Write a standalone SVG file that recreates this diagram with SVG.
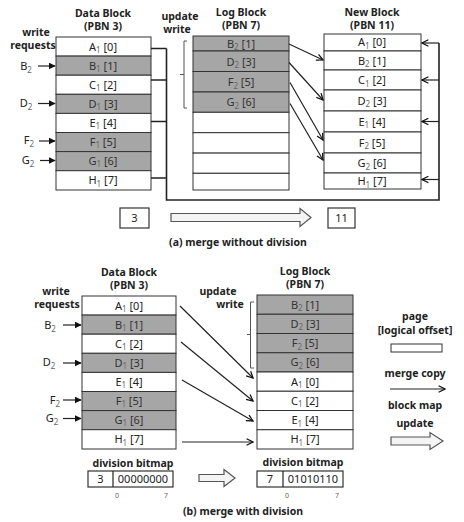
<svg xmlns="http://www.w3.org/2000/svg" width="464" height="522" viewBox="0 0 464 522">
<style>
  text { font-family: "Noto Sans", "Open Sans", "DejaVu Sans", sans-serif; fill: #222; }
  .t { font-size: 10.5px; font-weight: bold; text-anchor: middle; }
  .r { font-size: 11px; text-anchor: middle; }
  .rs { font-size: 11px; text-anchor: middle; fill: #333; }
  .s { font-size: 8px; fill: #666; }
  .lbl { font-size: 11px; text-anchor: middle; }
  .sm { font-size: 7px; text-anchor: middle; fill: #666; }
  .cap { font-size: 10.5px; font-weight: bold; text-anchor: middle; }
  .w { fill: #fff; stroke: #333; stroke-width: 1; }
  .g { fill: #a6a6a6; stroke: #333; stroke-width: 1; }
  .box { fill: #fff; stroke: #333; stroke-width: 1.2; }
  .ln { fill: none; stroke: #222; stroke-width: 1.2; }
  .loop { fill: none; stroke: #222; stroke-width: 1.6; }
  .brace { fill: none; stroke: #555; stroke-width: 1; }
  .hol { fill: #f4f4f4; stroke: #555; stroke-width: 1.2; }
</style>
<defs>
  <marker id="fa" viewBox="0 0 10 10" refX="9" refY="5" markerWidth="7" markerHeight="7" markerUnits="userSpaceOnUse" orient="auto">
    <path d="M0,0 L10,5 L0,10 z" fill="#111"/>
  </marker>
  <marker id="oa" viewBox="0 0 10 10" refX="9" refY="5" markerWidth="8" markerHeight="8" markerUnits="userSpaceOnUse" orient="auto">
    <path d="M1,1 L9,5 L1,9" fill="none" stroke="#111" stroke-width="1.6"/>
  </marker>
</defs>
<rect width="464" height="522" fill="#fff"/>

<!-- ===== (a) merge without division ===== -->
<g id="a-data-block">
  <text class="t" x="103" y="17">Data Block</text>
  <text class="t" x="103" y="30">(PBN 3)</text>
  <rect class="w" x="56" y="37" width="95" height="19.1"/>
  <rect class="g" x="56" y="56.1" width="95" height="19.1"/>
  <rect class="w" x="56" y="75.2" width="95" height="19.1"/>
  <rect class="g" x="56" y="94.3" width="95" height="19.1"/>
  <rect class="w" x="56" y="113.4" width="95" height="19.1"/>
  <rect class="g" x="56" y="132.5" width="95" height="19.1"/>
  <rect class="g" x="56" y="151.6" width="95" height="19.1"/>
  <rect class="w" x="56" y="170.7" width="95" height="19.3"/>
  <text class="r" x="103" y="50.5">A<tspan class="s" dy="2.5">1</tspan><tspan dy="-2.5"> [0]</tspan></text>
  <text class="rs" x="103" y="69.5">B<tspan class="s" dy="2.5">1</tspan><tspan dy="-2.5"> [1]</tspan></text>
  <text class="r" x="103" y="88.5">C<tspan class="s" dy="2.5">1</tspan><tspan dy="-2.5"> [2]</tspan></text>
  <text class="rs" x="103" y="107.5">D<tspan class="s" dy="2.5">1</tspan><tspan dy="-2.5"> [3]</tspan></text>
  <text class="r" x="103" y="126.5">E<tspan class="s" dy="2.5">1</tspan><tspan dy="-2.5">  [4]</tspan></text>
  <text class="rs" x="103" y="145.5">F<tspan class="s" dy="2.5">1</tspan><tspan dy="-2.5">  [5]</tspan></text>
  <text class="rs" x="103" y="164.5">G<tspan class="s" dy="2.5">1</tspan><tspan dy="-2.5">  [6]</tspan></text>
  <text class="r" x="103" y="184">H<tspan class="s" dy="2.5">1</tspan><tspan dy="-2.5">  [7]</tspan></text>
</g>

<g id="a-write-requests">
  <text class="cap" x="36" y="36" font-size="10">write</text>
  <text class="cap" x="33" y="48.5" font-size="10">requests</text>
  <text class="lbl" x="26" y="70">B<tspan class="s" dy="2.5">2</tspan></text>
  <text class="lbl" x="26" y="107">D<tspan class="s" dy="2.5">2</tspan></text>
  <text class="lbl" x="29" y="144">F<tspan class="s" dy="2.5">2</tspan></text>
  <text class="lbl" x="28" y="164">G<tspan class="s" dy="2.5">2</tspan></text>
</g>

<g id="a-log-block">
  <text class="t" x="241" y="16">Log Block</text>
  <text class="t" x="241" y="29">(PBN 7)</text>
  <text class="cap" x="180" y="20">update</text>
  <text class="cap" x="177" y="33">write</text>
  <rect class="g" x="193" y="36" width="96" height="15"/>
  <rect class="g" x="193" y="51" width="96" height="20.5"/>
  <rect class="g" x="193" y="71.5" width="96" height="20.5"/>
  <rect class="g" x="193" y="92" width="96" height="20.3"/>
  <rect class="w" x="193" y="112.3" width="96" height="20.4"/>
  <rect class="w" x="193" y="132.7" width="96" height="20.4"/>
  <rect class="w" x="193" y="153.1" width="96" height="20.2"/>
  <rect class="w" x="193" y="173.3" width="96" height="16.7"/>
  <path class="brace" d="M187,41 L184,41 L184,108 L187,108 M184,74.5 L180,74.5"/>
  <text class="rs" x="241" y="47.5">B<tspan class="s" dy="2.5">2</tspan><tspan dy="-2.5"> [1]</tspan></text>
  <text class="rs" x="241" y="65.5">D<tspan class="s" dy="2.5">2</tspan><tspan dy="-2.5"> [3]</tspan></text>
  <text class="rs" x="241" y="86">F<tspan class="s" dy="2.5">2</tspan><tspan dy="-2.5"> [5]</tspan></text>
  <text class="rs" x="241" y="106">G<tspan class="s" dy="2.5">2</tspan><tspan dy="-2.5"> [6]</tspan></text>
</g>

<g id="a-new-block">
  <text class="t" x="372" y="16">New Block</text>
  <text class="t" x="372" y="29">(PBN 11)</text>
  <rect class="w" x="324" y="34" width="97" height="17"/>
  <rect class="w" x="324" y="51" width="97" height="19"/>
  <rect class="w" x="324" y="70" width="97" height="20"/>
  <rect class="w" x="324" y="90" width="97" height="21"/>
  <rect class="w" x="324" y="111" width="97" height="21"/>
  <rect class="w" x="324" y="132" width="97" height="21"/>
  <rect class="w" x="324" y="153" width="97" height="20"/>
  <rect class="w" x="324" y="173" width="97" height="16"/>
  <text class="r" x="372" y="46">A<tspan class="s" dy="2.5">1</tspan><tspan dy="-2.5"> [0]</tspan></text>
  <text class="r" x="372" y="64.5">B<tspan class="s" dy="2.5">2</tspan><tspan dy="-2.5"> [1]</tspan></text>
  <text class="r" x="372" y="84">C<tspan class="s" dy="2.5">1</tspan><tspan dy="-2.5"> [2]</tspan></text>
  <text class="r" x="372" y="104.5">D<tspan class="s" dy="2.5">2</tspan><tspan dy="-2.5"> [3]</tspan></text>
  <text class="r" x="372" y="125.5">E<tspan class="s" dy="2.5">1</tspan><tspan dy="-2.5"> [4]</tspan></text>
  <text class="r" x="372" y="146.5">F<tspan class="s" dy="2.5">2</tspan><tspan dy="-2.5"> [5]</tspan></text>
  <text class="r" x="372" y="167">G<tspan class="s" dy="2.5">2</tspan><tspan dy="-2.5"> [6]</tspan></text>
  <text class="r" x="372" y="185">H<tspan class="s" dy="2.5">1</tspan><tspan dy="-2.5"> [7]</tspan></text>
</g>

<g id="a-map">
  <rect class="box" x="120" y="208" width="29" height="20"/>
  <text class="lbl" x="134.5" y="222">3</text>
  <rect class="box" x="328" y="208" width="27" height="20"/>
  <text class="lbl" x="341.5" y="222">11</text>
  <path class="hol" d="M171,213.5 L300,213.5 L300,208.5 L311,217.5 L300,226.5 L300,221.5 L171,221.5 z"/>
  <text class="cap" x="238" y="246">(a)  merge without division</text>
</g>

<g id="a-connectors">
  <line class="ln" x1="38" y1="66" x2="55" y2="66" marker-end="url(#fa)"/>
  <line class="ln" x1="38" y1="103.5" x2="55" y2="103.5" marker-end="url(#fa)"/>
  <line class="ln" x1="39" y1="141" x2="55" y2="141" marker-end="url(#fa)"/>
  <line class="ln" x1="40" y1="160.5" x2="55" y2="160.5" marker-end="url(#fa)"/>
  <line class="ln" x1="289" y1="44" x2="323" y2="60" marker-end="url(#oa)"/>
  <line class="ln" x1="289" y1="62.5" x2="323" y2="100" marker-end="url(#oa)"/>
  <line class="ln" x1="290" y1="82.5" x2="323" y2="140" marker-end="url(#oa)"/>
  <line class="ln" x1="290" y1="103.5" x2="323" y2="160" marker-end="url(#oa)"/>
  <path class="loop" d="M151,48.5 L166.5,48.5 M151,80 L166.5,80 M151,121.5 L166.5,121.5 M151,178 L166.5,178 M166.5,48.5 L166.5,200 L439,200 L439,43"/>
  <line class="ln" x1="439" y1="43" x2="422" y2="43" marker-end="url(#oa)"/>
  <line class="ln" x1="439" y1="80" x2="422" y2="80" marker-end="url(#oa)"/>
  <line class="ln" x1="439" y1="121.5" x2="422" y2="121.5" marker-end="url(#oa)"/>
  <line class="ln" x1="439" y1="179.5" x2="422" y2="179.5" marker-end="url(#oa)"/>
</g>

<!-- ===== (b) merge with division ===== -->
<g id="b-data-block">
  <text class="t" x="129" y="276">Data Block</text>
  <text class="t" x="129" y="289">(PBN 3)</text>
  <rect class="w" x="82" y="296" width="94" height="19.1"/>
  <rect class="g" x="82" y="315.1" width="94" height="19.1"/>
  <rect class="w" x="82" y="334.2" width="94" height="19.1"/>
  <rect class="g" x="82" y="353.3" width="94" height="19.1"/>
  <rect class="w" x="82" y="372.4" width="94" height="19.1"/>
  <rect class="g" x="82" y="391.5" width="94" height="19.1"/>
  <rect class="g" x="82" y="410.6" width="94" height="19.1"/>
  <rect class="w" x="82" y="429.7" width="94" height="19.3"/>
  <text class="r" x="129" y="309.5">A<tspan class="s" dy="2.5">1</tspan><tspan dy="-2.5"> [0]</tspan></text>
  <text class="rs" x="129" y="328.5">B<tspan class="s" dy="2.5">1</tspan><tspan dy="-2.5"> [1]</tspan></text>
  <text class="r" x="129" y="347.5">C<tspan class="s" dy="2.5">1</tspan><tspan dy="-2.5"> [2]</tspan></text>
  <text class="rs" x="129" y="366.5">D<tspan class="s" dy="2.5">1</tspan><tspan dy="-2.5"> [3]</tspan></text>
  <text class="r" x="129" y="385.5">E<tspan class="s" dy="2.5">1</tspan><tspan dy="-2.5">  [4]</tspan></text>
  <text class="rs" x="129" y="404.5">F<tspan class="s" dy="2.5">1</tspan><tspan dy="-2.5">  [5]</tspan></text>
  <text class="rs" x="129" y="423.5">G<tspan class="s" dy="2.5">1</tspan><tspan dy="-2.5">  [6]</tspan></text>
  <text class="r" x="129" y="443">H<tspan class="s" dy="2.5">1</tspan><tspan dy="-2.5">  [7]</tspan></text>
</g>

<g id="b-write-requests">
  <text class="cap" x="56" y="295" font-size="10">write</text>
  <text class="cap" x="57" y="307.5" font-size="10">requests</text>
  <text class="lbl" x="50" y="329">B<tspan class="s" dy="2.5">2</tspan></text>
  <text class="lbl" x="49" y="366">D<tspan class="s" dy="2.5">2</tspan></text>
  <text class="lbl" x="55" y="404">F<tspan class="s" dy="2.5">2</tspan></text>
  <text class="lbl" x="52" y="422">G<tspan class="s" dy="2.5">2</tspan></text>
</g>

<g id="b-log-block">
  <text class="t" x="305" y="275">Log Block</text>
  <text class="t" x="305" y="288">(PBN 7)</text>
  <text class="cap" x="218" y="295">update</text>
  <text class="cap" x="230" y="308">write</text>
  <rect class="g" x="257" y="295" width="96" height="19.25"/>
  <rect class="g" x="257" y="314.25" width="96" height="19.25"/>
  <rect class="g" x="257" y="333.5" width="96" height="19.25"/>
  <rect class="g" x="257" y="352.75" width="96" height="19.25"/>
  <rect class="w" x="257" y="372" width="96" height="19.25"/>
  <rect class="w" x="257" y="391.25" width="96" height="19.25"/>
  <rect class="w" x="257" y="410.5" width="96" height="19.25"/>
  <rect class="w" x="257" y="429.75" width="96" height="19.25"/>
  <path class="brace" d="M254,302 L250.5,302 L250.5,368 L254,368 M250.5,334.5 L247,334.5"/>
  <text class="rs" x="305" y="308.5">B<tspan class="s" dy="2.5">2</tspan><tspan dy="-2.5"> [1]</tspan></text>
  <text class="rs" x="305" y="327.5">D<tspan class="s" dy="2.5">2</tspan><tspan dy="-2.5"> [3]</tspan></text>
  <text class="rs" x="305" y="347">F<tspan class="s" dy="2.5">2</tspan><tspan dy="-2.5"> [5]</tspan></text>
  <text class="rs" x="305" y="366">G<tspan class="s" dy="2.5">2</tspan><tspan dy="-2.5"> [6]</tspan></text>
  <text class="r" x="305" y="385.5">A<tspan class="s" dy="2.5">1</tspan><tspan dy="-2.5"> [0]</tspan></text>
  <text class="r" x="305" y="404.5">C<tspan class="s" dy="2.5">1</tspan><tspan dy="-2.5"> [2]</tspan></text>
  <text class="r" x="305" y="424">E<tspan class="s" dy="2.5">1</tspan><tspan dy="-2.5"> [4]</tspan></text>
  <text class="r" x="305" y="443">H<tspan class="s" dy="2.5">1</tspan><tspan dy="-2.5"> [7]</tspan></text>
</g>

<g id="b-legend">
  <text class="cap" x="415" y="320">page</text>
  <text class="cap" x="415" y="334">[logical offset]</text>
  <rect class="w" x="391" y="344" width="51" height="8"/>
  <text class="cap" x="415" y="377">merge copy</text>
  <line class="ln" x1="390" y1="389" x2="445" y2="389" marker-end="url(#oa)"/>
  <text class="cap" x="415" y="409">block map</text>
  <text class="cap" x="415" y="427">update</text>
  <path class="hol" d="M391,437 L430,437 L430,432.5 L443,441 L430,449.5 L430,445 L391,445 z"/>
</g>

<g id="b-bitmap-left">
  <text class="cap" x="133" y="467" font-size="10">division bitmap</text>
  <rect class="box" x="88" y="471" width="85" height="16"/>
  <line class="ln" x1="113" y1="471" x2="113" y2="487"/>
  <text class="lbl" x="100.5" y="483">3</text>
  <text class="lbl" x="143" y="483">00000000</text>
  <text class="sm" x="117" y="498">0</text>
  <text class="sm" x="166" y="498">7</text>
</g>

<path id="b-map-arrow" class="hol" d="M199,474.5 L224,474.5 L224,469.5 L235,478 L224,486.5 L224,481.5 L199,481.5 z"/>

<g id="b-bitmap-right">
  <text class="cap" x="303" y="466" font-size="10">division bitmap</text>
  <rect class="box" x="257" y="471" width="86" height="16"/>
  <line class="ln" x1="283" y1="471" x2="283" y2="487"/>
  <text class="lbl" x="270" y="483">7</text>
  <text class="lbl" x="313" y="483">01010110</text>
  <text class="sm" x="287" y="498">0</text>
  <text class="sm" x="337" y="498">7</text>
</g>

<text class="cap" x="243" y="515">(b)  merge with division</text>

<g id="b-connectors">
  <line class="ln" x1="63" y1="325" x2="81" y2="325" marker-end="url(#fa)"/>
  <line class="ln" x1="63" y1="363" x2="81" y2="363" marker-end="url(#fa)"/>
  <line class="ln" x1="63" y1="400" x2="81" y2="400" marker-end="url(#fa)"/>
  <line class="ln" x1="63" y1="418.5" x2="81" y2="418.5" marker-end="url(#fa)"/>
  <line class="ln" x1="180" y1="306" x2="253" y2="378" marker-end="url(#oa)"/>
  <line class="ln" x1="181" y1="342" x2="253" y2="401" marker-end="url(#oa)"/>
  <line class="ln" x1="182" y1="380" x2="253" y2="421" marker-end="url(#oa)"/>
  <line class="ln" x1="182" y1="442" x2="253" y2="442" marker-end="url(#oa)"/>
</g>
</svg>
